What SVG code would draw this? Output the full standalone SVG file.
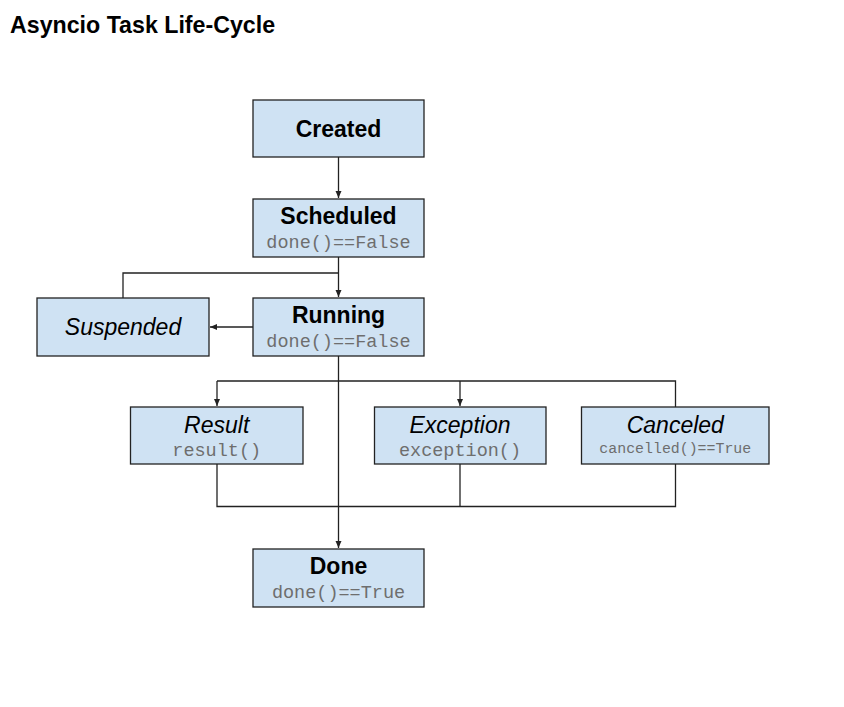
<svg xmlns="http://www.w3.org/2000/svg" width="844" height="707" viewBox="0 0 844 707">
<style>
.box{fill:#cfe2f3;stroke:#222;stroke-width:1.3}
.b{font-family:"Liberation Sans",Arial,sans-serif;font-weight:bold;font-size:23px;fill:#000;text-anchor:middle}
.i{font-family:"Liberation Sans",Arial,sans-serif;font-style:italic;font-size:23px;fill:#000;text-anchor:middle}
.m{font-family:"Liberation Mono","Courier New",monospace;font-size:18.5px;fill:#6e6e6e;text-anchor:middle}
.ms{font-family:"Liberation Mono","Courier New",monospace;font-size:14.9px;fill:#6e6e6e;text-anchor:middle}
.c{fill:none;stroke:#222;stroke-width:1.3}
</style>
<defs>
<marker id="ah" markerWidth="8" markerHeight="8" refX="7" refY="4" orient="auto" markerUnits="userSpaceOnUse">
<path d="M0,1 L7,4 L0,7 Z" fill="#222"/>
</marker>
</defs>
<rect width="844" height="707" fill="#fff"/>
<text x="10" y="33" font-family="Liberation Sans, Arial, sans-serif" font-weight="bold" font-size="23.2" fill="#000">Asyncio Task Life-Cycle</text>
<g id="connectors">
<path class="c" d="M338.5,157 V198" marker-end="url(#ah)"/>
<path class="c" d="M338.5,257 V297" marker-end="url(#ah)"/>
<path class="c" d="M123,298 V273 H338.5"/>
<path class="c" d="M253,327 H210" marker-end="url(#ah)"/>
<path class="c" d="M338.5,356 V548" marker-end="url(#ah)"/>
<path class="c" d="M217,381 H675.5 V407"/>
<path class="c" d="M217,381 V406" marker-end="url(#ah)"/>
<path class="c" d="M460,381 V406" marker-end="url(#ah)"/>
<path class="c" d="M217,464 V506.5 H675.5 V464"/>
<path class="c" d="M460,464 V506.5"/>
</g>
<g id="created">
<rect class="box" x="253" y="100" width="171" height="57"/>
<text class="b" x="338.5" y="137">Created</text>
</g>
<g id="scheduled">
<rect class="box" x="253" y="199" width="171" height="58"/>
<text class="b" x="338.5" y="224">Scheduled</text>
<text class="m" x="338.5" y="248">done()==False</text>
</g>
<g id="running">
<rect class="box" x="253" y="298" width="171" height="58"/>
<text class="b" x="338.5" y="323">Running</text>
<text class="m" x="338.5" y="347">done()==False</text>
</g>
<g id="suspended">
<rect class="box" x="37" y="298" width="172" height="58"/>
<text class="i" x="123" y="335">Suspended</text>
</g>
<g id="result">
<rect class="box" x="130.5" y="407" width="172.5" height="57"/>
<text class="i" x="216.7" y="433">Result</text>
<text class="m" x="216.7" y="456">result()</text>
</g>
<g id="exception">
<rect class="box" x="374.5" y="407" width="171.5" height="57"/>
<text class="i" x="460" y="433">Exception</text>
<text class="m" x="460" y="456">exception()</text>
</g>
<g id="canceled">
<rect class="box" x="581.5" y="407" width="187.5" height="57"/>
<text class="i" x="675.3" y="433">Canceled</text>
<text class="ms" x="675.3" y="453">cancelled()==True</text>
</g>
<g id="done">
<rect class="box" x="253" y="549" width="171" height="58"/>
<text class="b" x="338.5" y="574">Done</text>
<text class="m" x="338.5" y="598">done()==True</text>
</g>
</svg>
